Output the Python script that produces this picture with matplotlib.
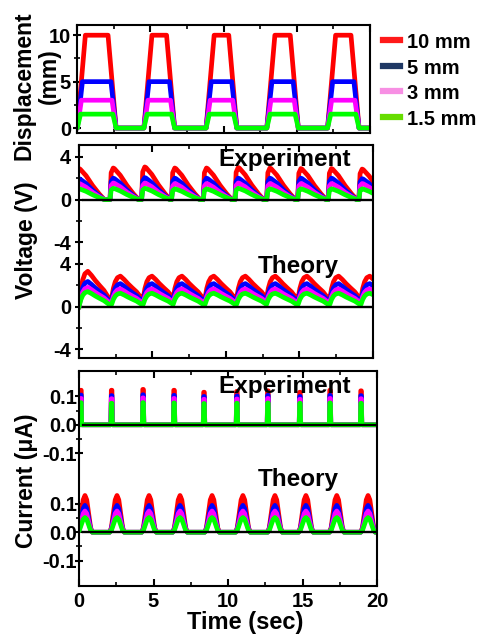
"""Displacement / voltage / current vs time for four displacement amplitudes."""

import matplotlib

matplotlib.use("Agg")
import matplotlib.pyplot as plt
import numpy as np
from matplotlib.lines import Line2D
from matplotlib.ticker import FixedFormatter, FixedLocator, MultipleLocator

W, H = 484, 640

SERIES_LABELS = ["10 mm", "5 mm", "3 mm", "1.5 mm"]
LINE_COLORS = ["#ff0000", "#0000ff", "#ff00ff", "#00ff00"]
LEGEND_COLORS = ["#ff1a1a", "#1f3864", "#f78fe3", "#66dd00"]

# displacement: trapezoid pulses (start / end of each pulse, ramp length per series)
DISP_AMPLITUDE = [10.0, 5.0, 3.0, 1.5]
DISP_PULSE_START = [0.0, 4.55, 8.8, 12.95, 17.1]
DISP_PULSE_END = [2.65, 6.65, 10.9, 15.1, 19.25]
DISP_RAMP = [0.55, 0.35, 0.28, 0.22]

# experimental voltage: sharp rise then decay
EXP_V_EVENTS = [-0.22, 2.11, 4.26, 6.3, 8.46, 10.62, 12.78, 14.89, 16.97, 19.06]
EXP_V_SHAPE_T = [0.0, 0.08, 0.22, 0.3, 0.7, 1.15, 1.6, 1.95]
EXP_V_SHAPE = [0.0, 0.85, 1.0, 0.98, 0.77, 0.45, 0.18, 0.0]
EXP_V_PEAK = [
    [2.9, 2.95, 3.05, 2.95, 2.95, 3.0, 2.95, 2.9, 2.9, 2.85],
    [1.95, 2.0, 2.05, 2.0, 2.0, 2.0, 2.0, 2.0, 2.0, 1.95],
    [1.5, 1.55, 1.55, 1.5, 1.5, 1.55, 1.5, 1.5, 1.5, 1.5],
    [1.0, 1.05, 1.05, 1.0, 1.0, 1.05, 1.0, 1.0, 1.0, 1.0],
]

# theoretical voltage: smooth rise from valley, then decay
THEO_V_EVENTS = [0.0, 2.22, 4.37, 6.41, 8.58, 10.73, 12.77, 14.92, 17.08, 19.2]
THEO_V_SHAPE_T = [0.0, 0.12, 0.25, 0.4, 0.6, 0.85, 1.1, 1.4, 1.7, 2.05]
THEO_V_SHAPE = [0.0, 0.45, 0.75, 0.93, 1.0, 0.85, 0.67, 0.48, 0.3, 0.0]
THEO_V_PEAK_INDEX = 4
THEO_V_PEAK = [
    [3.3, 2.85, 2.85, 2.85, 2.85, 2.85, 2.85, 2.85, 2.85, 2.85],
    [2.35, 2.15, 2.15, 2.15, 2.15, 2.15, 2.15, 2.15, 2.15, 2.15],
    [1.8, 1.65, 1.65, 1.65, 1.65, 1.65, 1.65, 1.65, 1.65, 1.65],
    [1.4, 1.25, 1.25, 1.25, 1.25, 1.25, 1.25, 1.25, 1.25, 1.25],
]
THEO_V_VALLEY = [0.75, 0.55, 0.4, 0.2]
V_OFFSET = 10.0

# experimental current: narrow spikes
EXP_I_EVENTS = [0.13, 2.19, 4.3, 6.38, 8.39, 10.6, 12.68, 14.83, 16.85, 18.93]
EXP_I_SHAPE_T = [-0.05, -0.02, 0.02, 0.05]
EXP_I_SHAPE = [0.0, 1.0, 1.0, 0.0]
EXP_I_PEAK = [
    [0.122, 0.122, 0.125, 0.122, 0.115, 0.118, 0.12, 0.115, 0.122, 0.12],
    [0.105, 0.103, 0.106, 0.104, 0.1, 0.102, 0.104, 0.1, 0.104, 0.103],
    [0.093, 0.092, 0.095, 0.093, 0.09, 0.091, 0.093, 0.09, 0.093, 0.092],
    [0.078, 0.076, 0.078, 0.077, 0.075, 0.076, 0.077, 0.076, 0.077, 0.076],
]

# theoretical current: bell-shaped peaks
THEO_I_PEAKS_T = [0.4, 2.55, 4.7, 6.78, 8.93, 11.0, 13.15, 15.23, 17.3, 19.4]
THEO_I_SHAPE_T = [-0.5, -0.38, -0.25, -0.12, 0.0, 0.12, 0.25, 0.38, 0.5]
THEO_I_SHAPE = [0.0, 0.12, 0.5, 0.88, 1.0, 0.88, 0.5, 0.12, 0.0]
THEO_I_PEAK = [0.13, 0.095, 0.075, 0.052]
I_OFFSET = 0.38

plt.rcParams["font.family"] = ["Liberation Sans", "DejaVu Sans"]
plt.rcParams["font.weight"] = "bold"
plt.rcParams["axes.linewidth"] = 1.5

LW = 3.4
TICK_FS = 14.5


def fig_xy(x, y):
    return x / W, 1 - y / H


def axes_rect(left, top, right, bottom):
    return [left / W, 1 - bottom / H, (right - left) / W, (bottom - top) / H]


def pulse_train(centers, shape_t, shape, heights):
    t, v = [], []
    for c, h in zip(centers, heights):
        for dt, s in zip(shape_t, shape):
            t.append(c + dt)
            v.append(h * s)
    return np.array([-1.0] + t + [21.0]), np.array([0.0] + v + [0.0])


def trapezoid_train(starts, ends, ramp, amp):
    t, v = [-1.0], [0.0]
    for s, e in zip(starts, ends):
        t += [s, s + ramp, e - ramp, e]
        v += [0.0, amp, amp, 0.0]
    return np.array(t + [21.0]), np.array(v + [0.0])


def theory_voltage(events, peaks, valley):
    t, v = [], []
    for i, (ev, pk) in enumerate(zip(events, peaks)):
        start = 0.0 if i == 0 else valley
        for j, (dt, s) in enumerate(zip(THEO_V_SHAPE_T, THEO_V_SHAPE)):
            if i + 1 < len(events) and ev + dt >= events[i + 1]:
                break
            low = start if j <= THEO_V_PEAK_INDEX else valley
            t.append(ev + dt)
            v.append(low + (pk - low) * s)
    return np.array(t), np.array(v)


def style_axis(ax, ypad, show_xlabels=False):
    ax.set_xlim(0, 20)
    ax.xaxis.set_major_locator(MultipleLocator(5))
    ax.xaxis.set_minor_locator(MultipleLocator(2.5))
    ax.tick_params(axis="x", which="both", direction="in", top=True, bottom=True,
                   labelbottom=show_xlabels, labelsize=TICK_FS, pad=4)
    ax.tick_params(axis="x", which="major", length=5, width=1.5)
    ax.tick_params(axis="x", which="minor", length=3, width=1.2)
    ax.tick_params(axis="y", which="both", direction="inout", right=False,
                   labelsize=TICK_FS, pad=ypad)
    ax.tick_params(axis="y", which="major", length=6, width=1.5)
    ax.tick_params(axis="y", which="minor", length=4, width=1.2)
    for label in ax.get_xticklabels() + ax.get_yticklabels():
        label.set_fontweight("bold")


fig = plt.figure(figsize=(W / 100, H / 100), dpi=100)

# ---- displacement
ax_d = fig.add_axes(axes_rect(77.3, 25, 370, 132.7))
for amp, ramp, color in zip(DISP_AMPLITUDE, DISP_RAMP, LINE_COLORS):
    t, v = trapezoid_train(DISP_PULSE_START, DISP_PULSE_END, ramp, amp)
    ax_d.plot(t, v, color=color, lw=LW, solid_joinstyle="round", solid_capstyle="round")
ax_d.set_ylim(-0.5, 11.1)
ax_d.yaxis.set_major_locator(FixedLocator([0, 5, 10]))
ax_d.yaxis.set_minor_locator(FixedLocator([2.5, 7.5]))
style_axis(ax_d, ypad=1.5)

# ---- voltage
ax_v = fig.add_axes(axes_rect(79, 145, 372.7, 358))
for k, color in enumerate(LINE_COLORS):
    t, v = pulse_train(EXP_V_EVENTS, EXP_V_SHAPE_T, EXP_V_SHAPE, EXP_V_PEAK[k])
    ax_v.plot(t, v, color=color, lw=LW, solid_joinstyle="round", zorder=2)
    t, v = theory_voltage(THEO_V_EVENTS, THEO_V_PEAK[k], THEO_V_VALLEY[k])
    ax_v.plot(t, v - V_OFFSET, color=color, lw=LW, solid_joinstyle="round", zorder=2)
for base in (0.0, -V_OFFSET):
    ax_v.plot([0.3, 20], [base, base], color="black", lw=1.7, zorder=3)
ax_v.set_ylim(-14.8, 5.1)
v_ticks = [4, 0, -4, 4 - V_OFFSET, -V_OFFSET, -4 - V_OFFSET]
ax_v.yaxis.set_major_locator(FixedLocator(v_ticks))
ax_v.yaxis.set_major_formatter(FixedFormatter(["4", "0", "-4", "4", "0", "-4"]))
ax_v.yaxis.set_minor_locator(FixedLocator([2, -2, 2 - V_OFFSET, -2 - V_OFFSET]))
style_axis(ax_v, ypad=2.5)

# ---- current
ax_i = fig.add_axes(axes_rect(79, 371, 377, 586))
for k, color in enumerate(LINE_COLORS):
    t, v = pulse_train(EXP_I_EVENTS, EXP_I_SHAPE_T, EXP_I_SHAPE, EXP_I_PEAK[k])
    ax_i.plot(t, v, color=color, lw=LW, solid_joinstyle="round", zorder=2)
    heights = [THEO_I_PEAK[k]] * len(THEO_I_PEAKS_T)
    t, v = pulse_train(THEO_I_PEAKS_T, THEO_I_SHAPE_T, THEO_I_SHAPE, heights)
    ax_i.plot(t, v - I_OFFSET, color=color, lw=LW, solid_joinstyle="round", zorder=2)
for base in (0.0, -I_OFFSET):
    ax_i.plot([0.3, 20], [base, base], color="black", lw=1.7, zorder=3)
ax_i.set_ylim(-0.57, 0.19)
i_ticks = [0.1, 0.0, -0.1, 0.1 - I_OFFSET, -I_OFFSET, -0.1 - I_OFFSET]
ax_i.yaxis.set_major_locator(FixedLocator(i_ticks))
ax_i.yaxis.set_major_formatter(FixedFormatter(["0.1", "0.0", "-0.1", "0.1", "0.0", "-0.1"]))
ax_i.yaxis.set_minor_locator(FixedLocator([0.05, -0.05, 0.05 - I_OFFSET, -0.05 - I_OFFSET]))
style_axis(ax_i, ypad=-1.5, show_xlabels=True)

# ---- panel annotations
for x, y, s in [(218, 166, "Experiment"), (258, 272.7, "Theory"),
                (218, 393, "Experiment"), (258, 486, "Theory")]:
    fig.text(*fig_xy(x, y), s, fontsize=17.5, fontweight="bold", ha="left", va="baseline")

# ---- axis labels
label_kw = dict(fontsize=16.5, fontweight="bold", rotation=90, rotation_mode="anchor",
                ha="center", va="baseline")
fig.text(*fig_xy(31, 86), "Displacement", **label_kw)
fig.text(*fig_xy(56, 76), "(mm)", **label_kw)
fig.text(*fig_xy(33, 240), "Voltage (V)", **label_kw)
fig.text(*fig_xy(33, 481), "Current (\u03bcA)", **label_kw)
fig.text(*fig_xy(245, 629), "Time (sec)", fontsize=17, fontweight="bold",
         ha="center", va="baseline")

# ---- legend
for k, (label, color) in enumerate(zip(SERIES_LABELS, LEGEND_COLORS)):
    y_mid = 40 + k * 25.6
    x0, y0 = fig_xy(383, y_mid)
    x1, _ = fig_xy(400, y_mid)
    fig.add_artist(Line2D([x0, x1], [y0, y0], color=color, lw=4.5,
                          transform=fig.transFigure))
    fig.text(*fig_xy(407, y_mid + 8), label, fontsize=14.5, fontweight="bold",
             ha="left", va="baseline")

fig.savefig("out.png", dpi=100)
plt.close(fig)
